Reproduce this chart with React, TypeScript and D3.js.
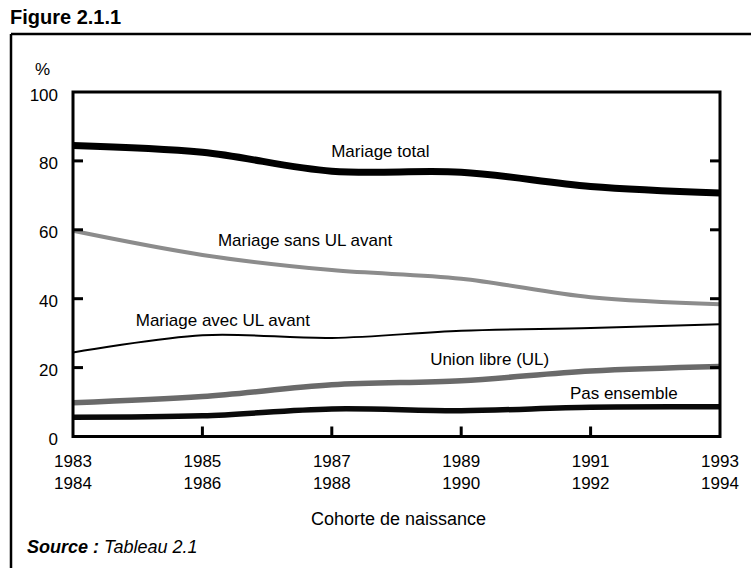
import React from "react";
import * as d3 from "d3";

const cohorts = [1983, 1985, 1987, 1989, 1991, 1993];
const cohortLines1 = ["1983", "1985", "1987", "1989", "1991", "1993"];
const cohortLines2 = ["1984", "1986", "1988", "1990", "1992", "1994"];
const yTicks = [0, 20, 40, 60, 80, 100];

const mariageTotal = [84.5, 82.5, 77.0, 76.7, 72.6, 70.7];
const mariageSansUL = [59.7, 52.7, 48.3, 45.8, 40.4, 38.4];
const mariageAvecUL = [24.4, 29.4, 28.6, 30.7, 31.5, 32.6];
const unionLibre = [9.8, 11.6, 15.0, 16.2, 19.0, 20.3];
const pasEnsemble = [5.6, 6.0, 8.0, 7.5, 8.5, 8.6];

const seriesNames = [
  "Mariage total",
  "Mariage sans UL avant",
  "Mariage avec UL avant",
  "Union libre (UL)",
  "Pas ensemble",
];

const W = 751;
const H = 568;
const M = { left: 73, right: 720, top: 92, bottom: 436.5 };
const FONT = "'Liberation Sans', Arial, Helvetica, sans-serif";

export default function App() {
  const x = d3.scaleLinear().domain([1983, 1993]).range([M.left, M.right]);
  const y = d3.scaleLinear().domain([0, 100]).range([M.bottom, M.top]);

  const series = [
    { name: seriesNames[0], values: mariageTotal, color: "#000", width: 7, lx: 1986.99, ly: 81.0 },
    { name: seriesNames[1], values: mariageSansUL, color: "#8c8c8c", width: 4, lx: 1985.24, ly: 55.4 },
    { name: seriesNames[2], values: mariageAvecUL, color: "#000", width: 2, lx: 1983.97, ly: 32.0 },
    { name: seriesNames[3], values: unionLibre, color: "#6a6a6a", width: 5.5, lx: 1988.52, ly: 20.7 },
    { name: seriesNames[4], values: pasEnsemble, color: "#0a0a0a", width: 5.5, lx: 1990.68, ly: 10.9 },
  ];

  const line = d3
    .line<number>()
    .x((_, i) => x(cohorts[i]))
    .y((v) => y(v))
    .curve(d3.curveCardinal.tension(0));

  const tickLen = 10;

  return (
    <svg
      width={W}
      height={H}
      style={{ position: "absolute", left: 0, top: 0, background: "#fff" }}
      fontFamily={FONT}
    >
      <rect x={0} y={0} width={W} height={H} fill="#fff" />
      {/* title */}
      <text x={10} y={24} fontSize={20} fontWeight="bold" fill="#000">
        Figure 2.1.1
      </text>
      {/* outer frame */}
      <line x1={11} y1={34} x2={W} y2={34} stroke="#000" strokeWidth={2.5} />
      <line x1={11} y1={34} x2={11} y2={H} stroke="#000" strokeWidth={2.5} />

      {/* series */}
      <g>
        {series.map((s) => (
          <path
            key={s.name}
            d={line(s.values) || ""}
            fill="none"
            stroke={s.color}
            strokeWidth={s.width}
            strokeLinejoin="round"
          />
        ))}
      </g>

      {/* plot frame */}
      <rect
        x={M.left}
        y={M.top}
        width={M.right - M.left}
        height={M.bottom - M.top}
        fill="none"
        stroke="#000"
        strokeWidth={3}
      />
      {/* y ticks (inside, both sides) */}
      {yTicks.slice(1, -1).map((t) => (
        <g key={t}>
          <line x1={M.left} x2={M.left + tickLen} y1={y(t)} y2={y(t)} stroke="#000" strokeWidth={3} />
          <line x1={M.right} x2={M.right - tickLen} y1={y(t)} y2={y(t)} stroke="#000" strokeWidth={3} />
        </g>
      ))}
      {/* x ticks */}
      {cohorts.slice(1, -1).map((c) => (
        <line key={c} x1={x(c)} x2={x(c)} y1={M.bottom} y2={M.bottom - tickLen} stroke="#000" strokeWidth={3} />
      ))}

      {/* y labels */}
      {yTicks.map((t) => (
        <text key={t} x={58} y={y(t) + 8.5} fontSize={17} textAnchor="end" fill="#000">
          {t}
        </text>
      ))}
      <text x={35} y={75} fontSize={17} fill="#000">
        %
      </text>

      {/* x labels */}
      {cohorts.map((c, i) => (
        <g key={c}>
          <text x={x(c)} y={467} fontSize={17} textAnchor="middle" fill="#000">
            {cohortLines1[i]}
          </text>
          <text x={x(c)} y={489} fontSize={17} textAnchor="middle" fill="#000">
            {cohortLines2[i]}
          </text>
        </g>
      ))}
      <text x={(M.left + M.right) / 2 + 2} y={525} fontSize={18} textAnchor="middle" fill="#000">
        Cohorte de naissance
      </text>

      {/* series labels */}
      {series.map((s) => (
        <text key={s.name + "-l"} x={x(s.lx)} y={y(s.ly)} fontSize={17} fill="#000">
          {s.name}
        </text>
      ))}

      {/* source */}
      <text x={27} y={553} fontSize={18} fill="#000">
        <tspan fontWeight="bold" fontStyle="italic">Source :</tspan>
        <tspan fontStyle="italic"> Tableau 2.1</tspan>
      </text>
    </svg>
  );
}
